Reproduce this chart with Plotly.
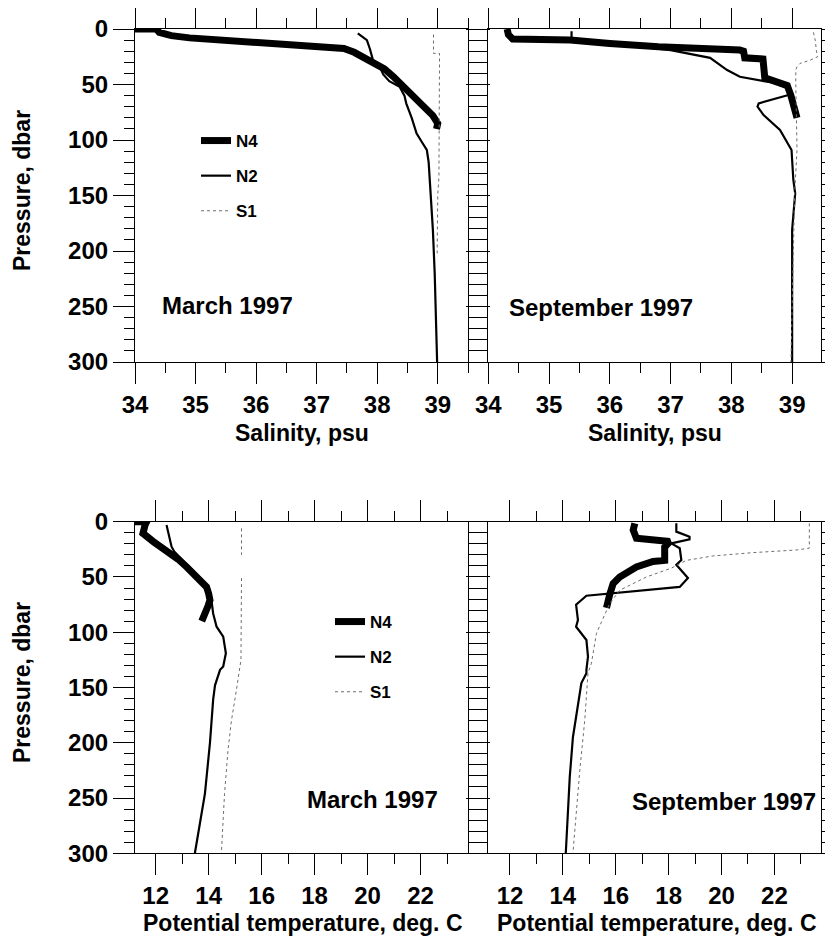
import plotly.graph_objects as go

# ---------------- data ----------------
# Salinity, March 1997
sal_mar_N4_p = [0, 0, 3, 6, 8, 10, 12.5, 15, 17.5, 21, 25, 30, 36, 43, 50, 57, 64, 71, 78, 85, 90]
sal_mar_N4 = [34.0, 34.35, 34.4, 34.6, 34.9, 35.4, 35.95, 36.7, 37.45, 37.62, 37.75, 37.95, 38.12, 38.27,
              38.4, 38.55, 38.65, 38.8, 38.92, 39.0, 38.98]
sal_mar_N2_p = [4, 10, 18, 28, 35, 41, 47, 52, 60, 67, 80, 94, 102, 109, 120, 139, 160, 181, 220, 260, 300]
sal_mar_N2 = [37.68, 37.83, 37.88, 37.93, 38.05, 38.1, 38.2, 38.37, 38.45, 38.48, 38.57, 38.65, 38.74,
              38.82, 38.85, 38.87, 38.9, 38.92, 38.95, 38.97, 38.99]
sal_mar_S1_p = [5, 22, 22, 60, 100, 133, 150, 180, 205]
sal_mar_S1 = [38.93, 38.93, 39.03, 39.03, 39.03, 39.02, 39.0, 39.0, 38.99]

# Salinity, September 1997
sal_sep_N4_p = [0, 5, 9, 10, 13, 16, 19, 20, 26, 27, 44, 48, 51, 60, 70, 80]
sal_sep_N4 = [34.31, 34.33, 34.4, 35.35, 36.0, 36.8, 38.14, 38.2, 38.22, 38.52, 38.55, 38.75, 38.92,
              38.98, 39.03, 39.08]
sal_sep_N2_p = [2, 10, 14, 19, 26, 37, 43, 47.5, 50, 59.5, 67, 70, 77.5, 91, 109, 136, 148, 166, 181, 220, 260, 300]
sal_sep_N2 = [35.37, 35.37, 36.2, 37.0, 37.65, 37.93, 38.14, 38.59, 38.92, 38.94, 38.45, 38.43, 38.53,
              38.8, 38.99, 39.02, 39.05, 39.02, 39.0, 39.0, 39.0, 39.0]
sal_sep_S1_p = [3, 10, 20, 25, 28, 31, 34, 37, 50, 80, 109, 150, 200, 250, 300]
sal_sep_S1 = [39.35, 39.38, 39.4, 39.42, 39.3, 39.13, 39.08, 39.06, 39.06, 39.07, 39.08, 39.04, 39.02,
              39.0, 38.98]

# Potential temperature, March 1997
tem_mar_N4_p = [0, 0, 3, 10.5, 18, 23, 27, 34, 41, 47, 53, 59, 65, 71, 76, 80, 85, 90]
tem_mar_N4 = [11.22, 11.66, 11.6, 11.52, 11.91, 12.2, 12.54, 12.85, 13.17, 13.45, 13.67, 13.92, 14.0,
              14.05, 13.98, 13.92, 13.82, 13.74]
tem_mar_N2_p = [3, 10.5, 22.6, 27, 41, 53, 60, 70, 83, 95, 104, 119, 131, 134, 148, 161, 200, 246, 300]
tem_mar_N2 = [12.41, 12.48, 12.6, 12.7, 13.25, 13.75, 13.98, 14.1, 14.17, 14.3, 14.55, 14.65, 14.55,
              14.43, 14.24, 14.17, 14.05, 13.86, 13.48]
tem_mar_S1_p = [6, 30, None, 51, 125, 152, 180, 207, 246, 300]
tem_mar_S1 = [15.24, 15.24, None, 15.24, 15.22, 15.05, 14.86, 14.73, 14.6, 14.48]

# Potential temperature, September 1997
tem_sep_N4_p = [1.5, 7.5, 15, 18, 23, 35, 36, 41, 50, 56, 66, 78]
tem_sep_N4 = [16.72, 16.66, 16.78, 18.04, 17.85, 17.85, 17.41, 16.78, 16.15, 15.9, 15.77, 15.65]
tem_sep_N2_p = [1.5, 9, 13.6, 16, 19.6, 24, 34.7, 39, 51, 59, 67, 75, 89, 95, 107, 122, 134, 137, 146,
                176, 195, 231, 300]
tem_sep_N2 = [18.29, 18.29, 18.79, 18.79, 18.1, 18.42, 18.48, 18.29, 18.73, 18.42, 14.89, 14.5, 14.57,
              14.5, 14.89, 14.95, 14.89, 14.89, 14.7, 14.5, 14.38, 14.26, 14.11]
tem_sep_S1_p = [1.5, 24, 25.6, 28, 31, 35, 42, 50, 62, 74, 101, 128, 137, 179, 225, 300]
tem_sep_S1 = [23.32, 23.32, 22.82, 21.18, 19.67, 18.67, 18.1, 17.16, 16.15, 15.77, 15.27, 15.08, 14.95,
              14.83, 14.64, 14.38]

series_names = ["N4", "N2", "S1"]
p_ticks = [0, 50, 100, 150, 200, 250, 300]
sal_ticks = [34, 35, 36, 37, 38, 39]
tem_ticks = [12, 14, 16, 18, 20, 22]

# ---------------- styling ----------------
FONT = "Liberation Sans, Arial, sans-serif"
styles = {
    "N4": dict(color="black", width=7),
    "N2": dict(color="black", width=2.2),
    "S1": dict(color="#6e6e6e", width=1, dash="dot"),
}

# the page body has an 8px default margin; size the figure to fit the window
W, H, OFF = 825, 930, 8


def fx(px):  # window x pixel -> paper fraction
    return (px - OFF) / W


def fy(py):  # window y pixel -> paper fraction
    return 1 - (py - OFF) / H


fig = go.Figure()

panels = [
    ("x", "y", [(sal_mar_N4, sal_mar_N4_p), (sal_mar_N2, sal_mar_N2_p), (sal_mar_S1, sal_mar_S1_p)], "legend"),
    ("x2", "y2", [(sal_sep_N4, sal_sep_N4_p), (sal_sep_N2, sal_sep_N2_p), (sal_sep_S1, sal_sep_S1_p)], None),
    ("x3", "y3", [(tem_mar_N4, tem_mar_N4_p), (tem_mar_N2, tem_mar_N2_p), (tem_mar_S1, tem_mar_S1_p)], "legend2"),
    ("x4", "y4", [(tem_sep_N4, tem_sep_N4_p), (tem_sep_N2, tem_sep_N2_p), (tem_sep_S1, tem_sep_S1_p)], None),
]

for xa, ya, series, leg in panels:
    for name, (xs, ps) in zip(series_names, series):
        fig.add_trace(go.Scatter(
            x=xs, y=ps, xaxis=xa, yaxis=ya, mode="lines", name=name,
            line=dict(shape="linear", **styles[name]),
            showlegend=leg is not None, legend=leg if leg else "legend",
            legendgroup=(leg or "") + name, connectgaps=False,
        ))

# panel geometry
xl = [fx(135), fx(468)]
xr = [fx(488.3), fx(820.7)]
yt = [fy(362), fy(29)]
yb = [fy(853.3), fy(521.7)]

tickfont = dict(family=FONT, size=24, color="black", weight="bold")


def xaxis(domain, anchor, rng, tickvals, minor_dtick, minor_tick0):
    return dict(domain=domain, anchor=anchor, range=rng, tickvals=tickvals, automargin=False,
                ticks="outside", ticklen=21, tickwidth=1, tickcolor="black",
                minor=dict(ticks="outside", ticklen=10, tickwidth=1, tickcolor="black",
                           dtick=minor_dtick, tick0=minor_tick0, showgrid=False),
                showline=True, linecolor="black", linewidth=1.2, mirror="allticks",
                showgrid=False, zeroline=False, tickfont=tickfont)


def yaxis(domain, anchor, labels):
    return dict(domain=domain, anchor=anchor, range=[300, 0], tickvals=p_ticks, automargin=False,
                ticks="outside", ticklen=21, tickwidth=1, tickcolor="black",
                minor=dict(ticks="outside", ticklen=10, tickwidth=1, tickcolor="black",
                           dtick=10, tick0=0, showgrid=False),
                showline=True, linecolor="black", linewidth=1.2, mirror="allticks",
                showgrid=False, zeroline=False, showticklabels=labels, tickfont=tickfont)


legfont = dict(family=FONT, size=17, color="black", weight="bold")
fig.update_layout(
    width=W, height=H,
    margin=dict(l=0, r=0, t=0, b=0, autoexpand=False),
    paper_bgcolor="white", plot_bgcolor="white",
    font=dict(family=FONT, color="black"),
    xaxis=xaxis(xl, "y", [34, 39.5], sal_ticks, 0.5, 34),
    xaxis2=xaxis(xr, "y2", [34, 39.47], sal_ticks, 0.5, 34),
    xaxis3=xaxis(xl, "y3", [11.22, 23.79], tem_ticks, 1, 12),
    xaxis4=xaxis(xr, "y4", [11.18, 23.75], tem_ticks, 1, 12),
    yaxis=yaxis(yt, "x", True),
    yaxis2=yaxis(yt, "x2", False),
    yaxis3=yaxis(yb, "x3", True),
    yaxis4=yaxis(yb, "x4", False),
    legend=dict(x=fx(196), y=fy(123), xanchor="left", yanchor="top", bgcolor="rgba(0,0,0,0)",
                font=legfont, tracegroupgap=10, itemwidth=30),
    legend2=dict(x=fx(330), y=fy(604), xanchor="left", yanchor="top", bgcolor="rgba(0,0,0,0)",
                 font=legfont, tracegroupgap=10, itemwidth=30),
)

ann_font = dict(family=FONT, size=24, color="black", weight="bold")
title_font = dict(family=FONT, size=23, color="black", weight="bold")
annotations = [
    dict(text="March 1997", xref="x domain", yref="y domain", x=0.075, y=0.171, xanchor="left", yanchor="middle"),
    dict(text="September 1997", xref="x2 domain", yref="y2 domain", x=0.056, y=0.165, xanchor="left", yanchor="middle"),
    dict(text="March 1997", xref="x3 domain", yref="y3 domain", x=0.51, y=0.161, xanchor="left", yanchor="middle"),
    dict(text="September 1997", xref="x4 domain", yref="y4 domain", x=0.426, y=0.155, xanchor="left", yanchor="middle"),
]
for a in annotations:
    fig.add_annotation(showarrow=False, font=ann_font, **a)

titles = [
    dict(text="Salinity, psu", x=fx(301.5), y=fy(433)),
    dict(text="Salinity, psu", x=fx(654.5), y=fy(433)),
    dict(text="Potential temperature, deg. C", x=fx(302.5), y=fy(923)),
    dict(text="Potential temperature, deg. C", x=fx(657), y=fy(923)),
    dict(text="Pressure, dbar", x=fx(22), y=fy(191), textangle=-90),
    dict(text="Pressure, dbar", x=fx(22), y=fy(683), textangle=-90),
]
for t in titles:
    fig.add_annotation(showarrow=False, xref="paper", yref="paper", xanchor="center", yanchor="middle",
                       font=title_font, **t)

fig.write_html("out.html")
